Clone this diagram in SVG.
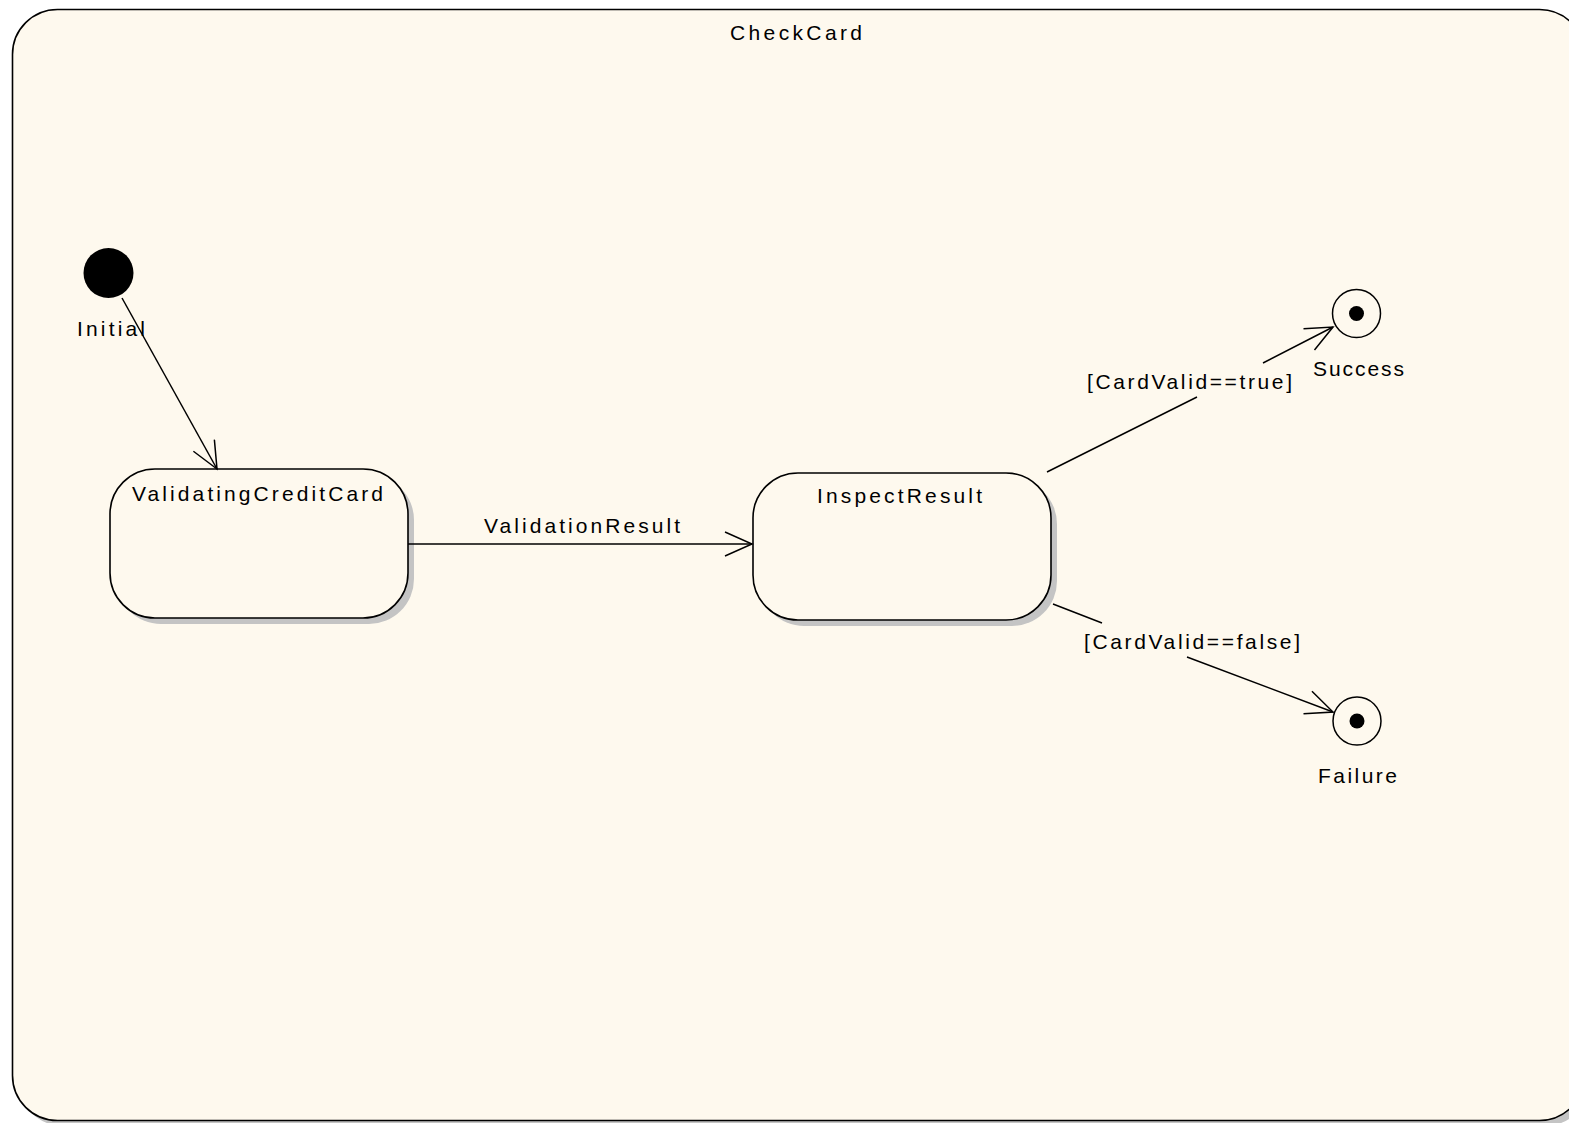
<svg xmlns="http://www.w3.org/2000/svg" width="1569" height="1123" viewBox="0 0 1569 1123">
<defs>
<style>
.frame{fill:#FEF9EE;stroke:#000;stroke-width:1.6}
.state{fill:#FEF9EE;stroke:#000;stroke-width:1.6}
.shadow{fill:#C4C4C4;stroke:none}
.edge{fill:none;stroke:#000;stroke-width:1.5;marker-end:url(#vee)}
.lbl{font-family:"Liberation Sans",Arial,sans-serif;font-size:21px;fill:#000}
</style>
<marker id="vee" markerUnits="userSpaceOnUse" markerWidth="32" markerHeight="32" viewBox="0 0 32 32" refX="29" refY="13" orient="auto">
<path d="M2,1 L29,13 L2,25" fill="none" stroke="#000" stroke-width="1.5"/>
</marker>
</defs>
<rect width="1569" height="1123" fill="#FFFFFF"/>
<g id="CheckCard">
<rect class="shadow" x="18" y="15" width="1572" height="1111" rx="45" ry="45"/>
<rect class="frame" x="12.5" y="9.5" width="1572" height="1111" rx="45" ry="45"/>
<text class="lbl" x="730" y="40" textLength="132">CheckCard</text>
</g>
<g id="Initial">
<circle cx="108.5" cy="273" r="25" fill="#000"/>
<text class="lbl" x="77" y="336" textLength="68">Initial</text>
</g>
<g id="ValidatingCreditCard">
<rect class="shadow" x="116" y="475" width="298" height="149" rx="45" ry="45"/>
<rect class="state" x="110" y="469" width="298" height="149" rx="45" ry="45"/>
<text class="lbl" x="132" y="501" textLength="251">ValidatingCreditCard</text>
</g>
<g id="InspectResult">
<rect class="shadow" x="759" y="479" width="298" height="147" rx="45" ry="45"/>
<rect class="state" x="753" y="473" width="298" height="147" rx="45" ry="45"/>
<text class="lbl" x="817" y="503" textLength="165">InspectResult</text>
</g>
<g id="Success">
<circle cx="1356.5" cy="313.5" r="24" fill="none" stroke="#000" stroke-width="1.5"/>
<circle cx="1356.5" cy="313.5" r="7.5" fill="#000"/>
<text class="lbl" x="1313" y="376" textLength="91">Success</text>
</g>
<g id="Failure">
<circle cx="1357" cy="721" r="24" fill="none" stroke="#000" stroke-width="1.5"/>
<circle cx="1357" cy="721" r="7.5" fill="#000"/>
<text class="lbl" x="1318" y="783" textLength="79">Failure</text>
</g>
<g id="connectors">
<path class="edge" d="M122,298 L217,469"/>
<path class="edge" d="M408,544 L752,544"/>
<text class="lbl" x="484" y="533" textLength="196">ValidationResult</text>
<path class="edge" d="M1047,472 L1197,397 M1263,363 L1333,327"/>
<text class="lbl" x="1087" y="389" textLength="205">[CardValid==true]</text>
<path class="edge" d="M1053,604 L1102,623 M1187,657 L1333,712"/>
<text class="lbl" x="1084" y="649" textLength="216">[CardValid==false]</text>
</g>
</svg>
